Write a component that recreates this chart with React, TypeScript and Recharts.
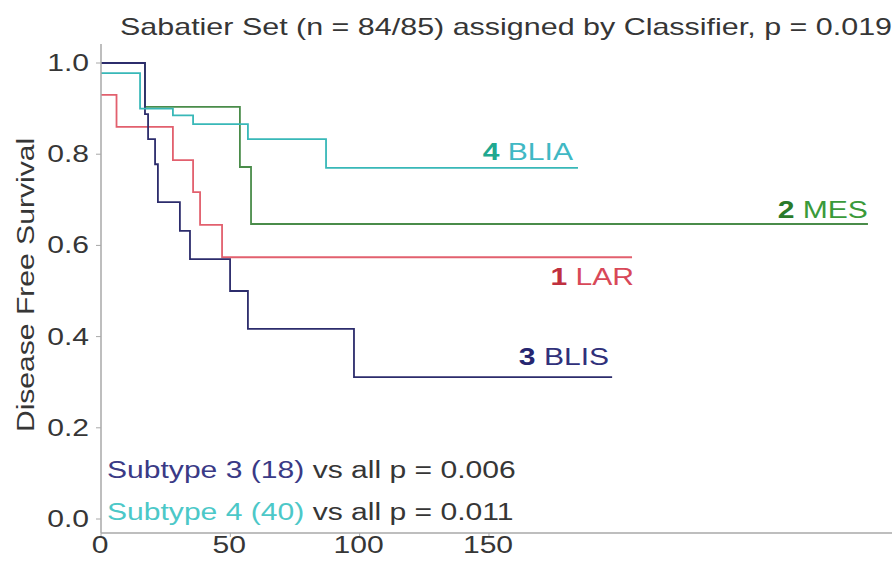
import React from 'react';
import { LineChart, Line, XAxis, YAxis, ReferenceDot, Customized } from 'recharts';

// ---- data ----
const BLIS_T = [0, 17.0, 18.2, 20.9, 22.0, 30.5, 34.4, 49.9, 56.8, 97.8, 197.6];
const BLIS_S = [1.0, 0.888, 0.833, 0.778, 0.695, 0.632, 0.57, 0.5, 0.417, 0.311, 0.311];

const LAR_T = [0, 6.0, 27.8, 35.6, 38.3, 46.8, 205.3];
const LAR_S = [0.93, 0.86, 0.787, 0.717, 0.645, 0.574, 0.574];

const MES_T = [0, 17.0, 53.7, 58.0, 296.5];
const MES_S = [1.0, 0.904, 0.772, 0.647, 0.647];

const BLIA_T = [0, 15.1, 27.8, 35.6, 56.8, 87.0, 184.4];
const BLIA_S = [0.978, 0.9, 0.885, 0.866, 0.833, 0.77, 0.77];

const X_TICKS = [0, 50, 100, 150];
const Y_TICKS = [0, 0.2, 0.4, 0.6, 0.8, 1.0];
const X_DOMAIN = [0, 305.8];
const Y_DOMAIN = [-0.0307, 1.0417];

const TITLE = 'Sabatier Set (n = 84/85) assigned by Classifier, p = 0.019';
const Y_LABEL = 'Disease Free Survival';

const toPoints = (t: number[], s: number[]) => t.map((v, i) => ({ t: v, s: s[i] }));

const SERIES = [
  { key: 'LAR', num: '1', name: 'LAR', data: toPoints(LAR_T, LAR_S), color: '#e2606e', numColor: '#c0303f', nameColor: '#d84858', dx: 2, dy: 28 },
  { key: 'MES', num: '2', name: 'MES', data: toPoints(MES_T, MES_S), color: '#4a8c4a', numColor: '#2a7a2a', nameColor: '#3a9a3a', dx: 0, dy: -6 },
  { key: 'BLIS', num: '3', name: 'BLIS', data: toPoints(BLIS_T, BLIS_S), color: '#2c2c6c', numColor: '#262670', nameColor: '#30307a', dx: -3, dy: -12 },
  { key: 'BLIA', num: '4', name: 'BLIA', data: toPoints(BLIA_T, BLIA_S), color: '#38b8b8', numColor: '#20a890', nameColor: '#40b8c4', dx: -5, dy: -8 },
];

const FONT = '"Liberation Sans", Arial, Helvetica, sans-serif';
const SX = 1.28;
const FS = 23.5;
const AXIS = '#a8a8a8';
const TEXT = '#363636';

function SText(props: any) {
  const { x, y, rotate = 0, anchor = 'start', size = FS, fill = TEXT, children } = props;
  return (
    <text
      transform={`translate(${x},${y}) rotate(${rotate}) scale(${SX},1)`}
      x={0}
      y={0}
      textAnchor={anchor}
      fontFamily={FONT}
      fontSize={size}
      fill={fill}
    >
      {children}
    </text>
  );
}

const YTick = (p: any) => (
  <SText x={p.x - 5} y={p.y + 8} anchor="end">{Number(p.payload.value).toFixed(1)}</SText>
);

const XTick = (p: any) => (
  <SText x={p.x - 1} y={p.y + 14} anchor="middle">{String(p.payload.value)}</SText>
);

const CurveLabel = (p: any) => {
  const vb = p.viewBox || {};
  const x = (vb.x || 0) + p.dx;
  const y = (vb.y || 0) + p.dy;
  return (
    <SText x={x} y={y} anchor="end" fill={p.nameColor}>
      <tspan fontWeight="bold" fill={p.numColor}>{p.num}</tspan>
      <tspan> {p.name}</tspan>
    </SText>
  );
};

const Annotations = () => (
  <g>
    <SText x={120} y={35} size={23.8}>{TITLE}</SText>
    <SText x={34} y={285} rotate={-90} anchor="middle">{Y_LABEL}</SText>
    <SText x={107} y={478}>
      <tspan fill="#3a3a86">Subtype 3 (18)</tspan>
      <tspan fill={TEXT}> vs all p = 0.006</tspan>
    </SText>
    <SText x={107} y={520}>
      <tspan fill="#4cc8c8">Subtype 4 (40)</tspan>
      <tspan fill={TEXT}> vs all p = 0.011</tspan>
    </SText>
  </g>
);

export default function App() {
  return (
    <div style={{ position: 'absolute', left: 0, top: 0, background: '#fff' }}>
      <LineChart width={892} height={566} margin={{ top: 44, right: 0, bottom: 0, left: 41 }}>
        <XAxis
          dataKey="t"
          type="number"
          domain={X_DOMAIN}
          ticks={X_TICKS}
          allowDataOverflow
          height={33}
          axisLine={{ stroke: AXIS, strokeWidth: 1.5 }}
          tickLine={{ stroke: AXIS }}
          tickSize={4}
          tick={<XTick />}
        />
        <XAxis
          xAxisId="top"
          orientation="top"
          type="number"
          domain={X_DOMAIN}
          height={0}
          tick={false}
          tickLine={false}
          axisLine={{ stroke: AXIS, strokeWidth: 1.5 }}
        />
        <YAxis
          type="number"
          domain={Y_DOMAIN}
          ticks={Y_TICKS}
          allowDataOverflow
          width={60}
          axisLine={{ stroke: AXIS, strokeWidth: 1.5 }}
          tickLine={{ stroke: AXIS }}
          tickSize={5}
          tick={<YTick />}
        />
        {SERIES.map((s) => (
          <Line
            key={s.key}
            data={s.data}
            dataKey="s"
            type="stepAfter"
            stroke={s.color}
            strokeWidth={1.8}
            dot={false}
            activeDot={false}
            isAnimationActive={false}
          />
        ))}
        {SERIES.map((s) => {
          const last = s.data[s.data.length - 1];
          return (
            <ReferenceDot
              key={'lbl-' + s.key}
              x={last.t}
              y={last.s}
              r={0.01}
              fill="none"
              stroke="none"
              ifOverflow="visible"
              label={<CurveLabel num={s.num} name={s.name} numColor={s.numColor} nameColor={s.nameColor} dx={s.dx} dy={s.dy} />}
            />
          );
        })}
        <Customized component={Annotations} />
      </LineChart>
    </div>
  );
}
